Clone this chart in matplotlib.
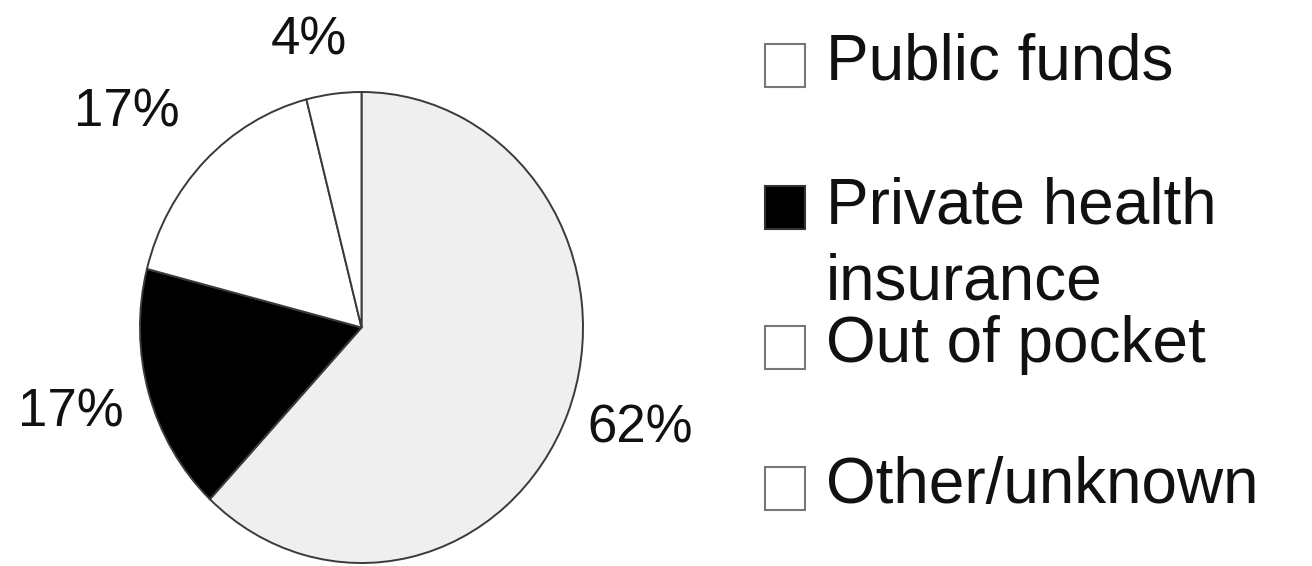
import numpy as np
import matplotlib
matplotlib.use("Agg")
import matplotlib.pyplot as plt
from matplotlib.patches import Rectangle

plt.rcParams['font.family'] = ['Liberation Sans', 'DejaVu Sans']

# datos del grafico
categorias = ["Public funds", "Private health\ninsurance", "Out of pocket", "Other/unknown"]
porcentajes = [62, 17, 17, 4]
etiquetas = ["62%", "17%", "17%", "4%"]
colores = ["#efefef", "#000000", "#ffffff", "#ffffff"]

# ajustes de posicion de las etiquetas (radio relativo y giro en grados)
radio_etiqueta = [1.33, 1.36, 1.40, 1.24]
giro_etiqueta = [2.7, -0.8, 4.3, 3.8]

W, H = 1312, 566
fig = plt.figure(figsize=(W / 100, H / 100), dpi=100)


def caja(x0, y0, x1, y1):
    # convierte pixeles (origen arriba-izquierda) a fraccion de figura
    return [x0 / W, 1 - y1 / H, (x1 - x0) / W, (y1 - y0) / H]


ax = fig.add_axes(caja(140, 92, 583, 563))
cunas, _ = ax.pie(porcentajes, colors=colores, startangle=90, counterclock=False,
                  wedgeprops=dict(edgecolor="#3a3a3a", linewidth=1.4))
ax.set_aspect('auto')
ax.set_xlim(-1, 1)
ax.set_ylim(-1, 1)
ax.set_axis_off()

for i, w in enumerate(cunas):
    ang = np.deg2rad((w.theta1 + w.theta2) / 2 + giro_etiqueta[i])
    r = radio_etiqueta[i]
    ax.text(r * np.cos(ang), r * np.sin(ang), etiquetas[i], fontsize=38,
            ha='center', va='center', color='#111111')

# leyenda dibujada a mano
lineas_base = [80, 222, 362, 503]
salto = 78  # distancia entre renglones en pixeles
for i, nombre in enumerate(categorias):
    yb = lineas_base[i]
    borde = "#333333" if i == 1 else "#777777"
    fig.patches.append(Rectangle((765 / W, 1 - (yb + 7) / H), 40 / W, 43 / H,
                                 transform=fig.transFigure, facecolor=colores[i] if i == 1 else "#ffffff",
                                 edgecolor=borde, linewidth=1.5))
    # con varios renglones, matplotlib alinea la linea base del ultimo
    y_texto = yb + salto * nombre.count("\n")
    fig.text(826 / W, 1 - y_texto / H, nombre, fontsize=46, ha='left', va='baseline',
             color='#111111', linespacing=1.35)

fig.savefig("out.png", dpi=100, facecolor='white')
